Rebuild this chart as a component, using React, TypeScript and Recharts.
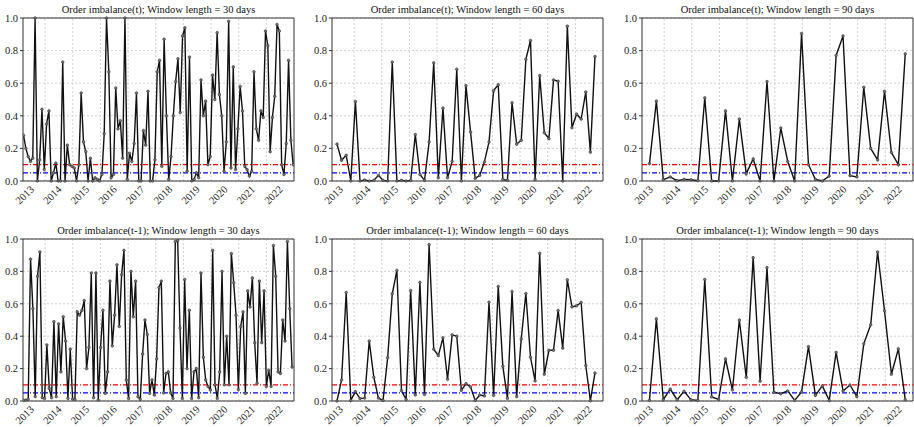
import React from "react";
import {
  CartesianGrid,
  Line,
  LineChart,
  ReferenceLine,
  XAxis,
  YAxis,
} from "recharts";

// year labels on the x axis, gridlines at the start of each year
const yearLabels = [2013, 2014, 2015, 2016, 2017, 2018, 2019, 2020, 2021, 2022];
const gridYears = [2014, 2015, 2016, 2017, 2018, 2019, 2020, 2021, 2022];
const yTicks = [0, 0.2, 0.4, 0.6, 0.8, 1.0];

// order imbalance(t), 30 / 60 / 90 day windows
const oiT30 = [
  0.28, 0.2, 0.15, 0.12, 0.14, 1.0, 0.0, 0.13, 0.44, 0.07,
  0.35, 0.43, 0.0, 0.05, 0.11, 0.0, 0.0, 0.73, 0.0, 0.22,
  0.1, 0.09, 0.08, 0.0, 0.1, 0.54, 0.24, 0.18, 0.0, 0.14,
  0.0, 0.02, 0.01, 0.0, 0.04, 0.29, 1.0, 0.67, 0.02, 0.04,
  0.57, 0.32, 0.37, 0.14, 1.0, 0.01, 0.17, 0.12, 0.23, 0.54,
  0.0, 0.0, 0.31, 0.22, 0.55, 0.0, 0.0, 0.13, 0.67, 0.74,
  0.09, 0.87, 0.4, 0.01, 0.15, 0.4, 0.61, 0.75, 0.42, 0.89,
  0.94, 0.06, 0.76, 0.0, 0.01, 0.05, 0.02, 0.62, 0.4, 0.49,
  0.1, 0.15, 0.65, 0.5, 0.91, 0.53, 0.4, 0.06, 0.24, 0.98,
  0.08, 0.7, 0.07, 0.32, 0.58, 0.43, 0.09, 0.07, 0.03, 0.06,
  0.67, 0.32, 0.25, 0.43, 0.39, 0.92, 0.83, 0.18, 0.39, 0.52,
  0.96, 0.92, 0.1, 0.04, 0.23, 0.74, 0.25, 0.1,
];
const oiT60 = [
  0.226, 0.127, 0.158, 0.0, 0.487, 0.0, 0.006, 0.0, 0.004, 0.035,
  0.004, 0.0, 0.73, 0.0, 0.004, 0.0, 0.004, 0.285, 0.04, 0.004,
  0.24, 0.725, 0.02, 0.447, 0.02, 0.12, 0.686, 0.0, 0.585, 0.3,
  0.016, 0.035, 0.117, 0.24, 0.555, 0.59, 0.01, 0.004, 0.48, 0.226,
  0.25, 0.747, 0.862, 0.01, 0.647, 0.296, 0.26, 0.62, 0.612, 0.0,
  0.95, 0.327, 0.41, 0.38, 0.546, 0.177, 0.764,
];
const oiT90 = [
  0.107, 0.49, 0.008, 0.025, 0.002, 0.01, 0.008, 0.002, 0.51, 0.0,
  0.0, 0.43, 0.0, 0.38, 0.045, 0.135, 0.0, 0.61, 0.0, 0.325,
  0.12, 0.0, 0.905, 0.1, 0.01, 0.0, 0.03, 0.77, 0.89, 0.033,
  0.025, 0.575, 0.2, 0.13, 0.55, 0.175, 0.1, 0.78,
];

// order imbalance(t-1), 30 / 60 / 90 day windows
const oiL30 = [
  0.004, 0.006, 0.01, 0.876, 0.57, 0.027, 0.77, 0.92, 0.02, 0.016,
  0.346, 0.078, 0.02, 0.49, 0.027, 0.476, 0.18, 0.52, 0.37, 0.016,
  0.32, 0.012, 0.01, 0.55, 0.53, 0.56, 0.62, 0.2, 0.33, 0.79,
  0.02, 0.79, 0.006, 0.33, 0.56, 0.047, 0.18, 0.74, 0.34, 0.53,
  0.84, 0.46, 0.78, 0.93, 0.13, 0.016, 0.8, 0.52, 0.74, 0.027,
  0.01, 0.29, 0.5, 0.41, 0.047, 0.13, 0.037, 0.26, 0.7, 0.74,
  0.05, 0.17, 0.18, 0.05, 0.016, 0.985, 0.99, 0.45, 0.016, 0.75,
  0.2, 0.56, 0.016, 0.18, 0.2, 0.02, 0.79, 0.27, 0.13, 0.09,
  0.068, 0.93, 0.1, 0.016, 0.18, 0.8, 0.1, 0.4, 0.1, 0.91,
  0.73, 0.53, 0.07, 0.46, 0.55, 0.047, 0.68, 0.58, 0.76, 0.36,
  0.11, 0.74, 0.36, 0.68, 0.09, 0.19, 0.09, 0.96, 0.77, 0.18,
  0.17, 0.5, 0.37, 0.985, 0.57, 0.21,
];
const oiL60 = [
  0.0, 0.13, 0.67, 0.004, 0.058, 0.015, 0.018, 0.37, 0.146, 0.018,
  0.004, 0.268, 0.662, 0.806, 0.064, 0.01, 0.682, 0.037, 0.732, 0.04,
  0.965, 0.32, 0.28, 0.39, 0.134, 0.408, 0.4, 0.066, 0.107, 0.087,
  0.004, 0.037, 0.031, 0.61, 0.035, 0.707, 0.214, 0.016, 0.676, 0.027,
  0.384, 0.664, 0.27, 0.124, 0.911, 0.165, 0.313, 0.313, 0.559, 0.326,
  0.748, 0.581, 0.588, 0.608, 0.219, 0.002, 0.173,
];
const oiL90 = [
  0.004, 0.507, 0.008, 0.074, 0.008, 0.06, 0.008, 0.004, 0.75, 0.025,
  0.01, 0.26, 0.068, 0.5, 0.146, 0.885, 0.122, 0.823, 0.054, 0.045,
  0.062, 0.004, 0.056, 0.336, 0.035, 0.093, 0.004, 0.3, 0.062, 0.099,
  0.027, 0.353, 0.47, 0.92, 0.557, 0.165, 0.322, 0.008,
];

const X_MIN = 2013.2;
const X_MAX = 2023.0;
const FONT = "'Liberation Serif', Tinos, 'Times New Roman', Times, 'DejaVu Serif', serif";

// date span (decimal years) of first and last window in each series
function toRows(values: number[], first: number, last: number) {
  const step = (last - first) / (values.length - 1);
  return values.map((v, i) => ({ x: first + i * step, v }));
}

const YearTick = (props: any) => {
  const { x, y, payload } = props;
  const tx = x;
  const ty = y + 1;
  return (
    <text
      x={tx}
      y={ty}
      transform={`rotate(-45 ${tx} ${ty})`}
      textAnchor="end"
      style={{ fontFamily: FONT, fontSize: 10.5 }}
      fill="#222"
    >
      {Math.floor(payload.value)}
    </text>
  );
};

type PanelProps = {
  title: string;
  values: number[];
  first: number;
  last: number;
  left: number;
  top: number;
  plotHeight: number;
  axisHeight: number;
};

function Panel({ title, values, first, last, left, top, plotHeight, axisHeight }: PanelProps) {
  const rows = toRows(values, first, last);
  const yAxisW = 23;
  const plotW = 271;
  const marginTop = 18;
  const width = yAxisW + plotW + 1;
  const height = marginTop + plotHeight + axisHeight;
  return (
    <div style={{ position: "absolute", left, top, width, height }}>
      <div
        style={{
          position: "absolute",
          left: yAxisW,
          width: plotW,
          top: 3,
          textAlign: "center",
          fontFamily: FONT,
          fontSize: 10.5,
          color: "#111",
          lineHeight: "14px",
          whiteSpace: "nowrap",
        }}
      >
        {title}
      </div>
      <LineChart
        width={width}
        height={height}
        data={rows}
        margin={{ top: marginTop, right: 1, bottom: 0, left: 0 }}
      >
        <CartesianGrid vertical={false} stroke="#d2d2d2" strokeDasharray="2 2" />
        {gridYears.map((yr) => (
          <ReferenceLine key={yr} x={yr} stroke="#d2d2d2" strokeDasharray="2 2" />
        ))}
        <XAxis
          type="number"
          dataKey="x"
          domain={[X_MIN, X_MAX]}
          ticks={yearLabels.map((yr) => yr + 0.62)}
          tick={<YearTick />}
          tickLine={false}
          axisLine={{ stroke: "#333" }}
          height={axisHeight}
          allowDataOverflow
          interval={0}
        />
        <YAxis
          domain={[0, 1]}
          ticks={yTicks}
          tickFormatter={(v: number) => v.toFixed(1)}
          tick={{ fontSize: 10.5, fontFamily: FONT, fill: "#222" }}
          tickSize={3}
          tickLine={{ stroke: "#333" }}
          axisLine={{ stroke: "#333" }}
          width={yAxisW}
          interval={0}
        />
        <ReferenceLine y={1} stroke="#333" />
        <ReferenceLine x={X_MAX} stroke="#333" />
        <ReferenceLine y={0.1} stroke="#ff0000" strokeWidth={1.3} strokeDasharray="5 2 1 2" />
        <ReferenceLine y={0.05} stroke="#0000ff" strokeWidth={1.3} strokeDasharray="5 2 1 2" />
        <Line
          type="linear"
          dataKey="v"
          stroke="#111"
          strokeWidth={1.4}
          dot={{ r: 1.3, fill: "#777", stroke: "#333", strokeWidth: 0.6 }}
          isAnimationActive={false}
        />
      </LineChart>
    </div>
  );
}

export default function App() {
  const colLeft = [0, 309, 619];
  return (
    <div style={{ position: "absolute", left: 0, top: 0, width: 914, height: 427, background: "#fff" }}>
      <Panel title="Order imbalance(t); Window length = 30 days" values={oiT30} first={2013.22} last={2022.97} left={colLeft[0]} top={0} plotHeight={163} axisHeight={30} />
      <Panel title="Order imbalance(t); Window length = 60 days" values={oiT60} first={2013.38} last={2022.71} left={colLeft[1]} top={0} plotHeight={163} axisHeight={30} />
      <Panel title="Order imbalance(t); Window length = 90 days" values={oiT90} first={2013.47} last={2022.72} left={colLeft[2]} top={0} plotHeight={163} axisHeight={30} />
      <Panel title="Order imbalance(t-1); Window length = 30 days" values={oiL30} first={2013.22} last={2022.93} left={colLeft[0]} top={221} plotHeight={162} axisHeight={26} />
      <Panel title="Order imbalance(t-1); Window length = 60 days" values={oiL60} first={2013.38} last={2022.71} left={colLeft[1]} top={221} plotHeight={162} axisHeight={26} />
      <Panel title="Order imbalance(t-1); Window length = 90 days" values={oiL90} first={2013.47} last={2022.72} left={colLeft[2]} top={221} plotHeight={162} axisHeight={26} />
    </div>
  );
}
